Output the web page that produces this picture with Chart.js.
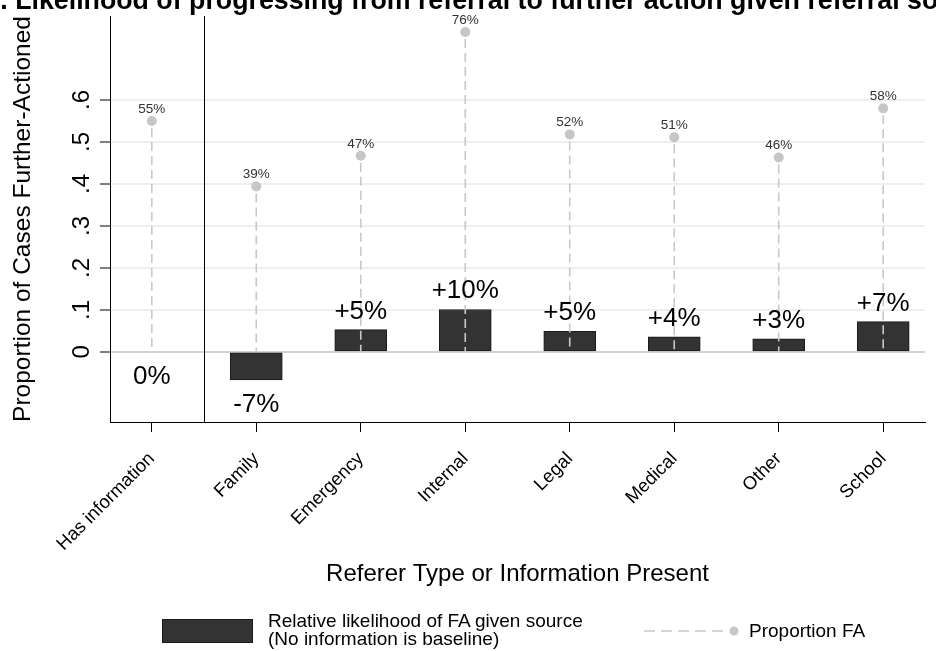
<!DOCTYPE html>
<html>
<head>
<meta charset="utf-8">
<script src="https://cdn.jsdelivr.net/npm/chart.js@4.4.1/dist/chart.umd.min.js"></script>
<style>
html, body { margin: 0; padding: 0; background: #fff; overflow: hidden; }
#wrap { position: relative; width: 936px; height: 651px; overflow: hidden; font-family: "Liberation Sans", Arial, sans-serif; color: #000; }
#chart { position: absolute; left: 0; top: 0; }
#title { position: absolute; left: -19px; top: -13px; white-space: nowrap; font-weight: bold; font-size: 26.75px; line-height: 27px; }
#lgbox { position: absolute; left: 162px; top: 619px; width: 89px; height: 22px; background: #333; border: 1px solid #1a1a1a; }
#lgtext1 { position: absolute; left: 268px; top: 612px; font-size: 19px; line-height: 18px; white-space: nowrap; }
#lgline { position: absolute; left: 640px; top: 624px; }
#lgtext2 { position: absolute; left: 749px; top: 621px; font-size: 19px; line-height: 20px; white-space: nowrap; }
</style>
</head>
<body>
<div id="wrap">
  <canvas id="chart" width="936" height="651"></canvas>
  <div id="title">B. Likelihood of progressing from referral to further action given referral source</div>
  <div id="lgbox"></div>
  <div id="lgtext1">Relative likelihood of FA given source<br>(No information is baseline)</div>
  <svg id="lgline" width="100" height="14"><line x1="4" y1="7" x2="88" y2="7" stroke="#c8c8c8" stroke-width="1.5" stroke-dasharray="11 6"/><circle cx="94" cy="7" r="4.5" fill="#c8c8c8"/></svg>
  <div id="lgtext2">Proportion FA</div>
</div>
<script>
// values
var categories = ['Has information', 'Family', 'Emergency', 'Internal', 'Legal', 'Medical', 'Other', 'School'];
var relLikelihood = [0, -0.067, 0.053, 0.101, 0.049, 0.036, 0.031, 0.072];
var propFA = [0.55, 0.394, 0.467, 0.762, 0.518, 0.511, 0.463, 0.58];
var yTicks = [0, 0.1, 0.2, 0.3, 0.4, 0.5, 0.6];
var yTickLabels = ['0', '.1', '.2', '.3', '.4', '.5', '.6'];

var FONT = '"Liberation Sans", Arial, sans-serif';

var barData = relLikelihood.map(function(v, i) { return {x: i + 1, y: v}; });
var pointData = propFA.map(function(v, i) { return {x: i + 1, y: v}; });

// dashed drop lines, drawn right after the bars so the dots sit on top
var dropLines = {
  id: 'dropLines',
  afterDatasetDraw: function(chart, args) {
    if (args.index !== 0) return;
    var ctx = chart.ctx;
    var zero = chart.scales.y.getPixelForValue(0);
    ctx.save();
    ctx.strokeStyle = '#c8c8c8';
    ctx.lineWidth = 1.6;
    ctx.setLineDash([9, 5]);
    chart.getDatasetMeta(1).data.forEach(function(p) {
      ctx.beginPath();
      ctx.moveTo(p.x, p.y + 7);
      ctx.lineTo(p.x, zero);
      ctx.stroke();
    });
    ctx.restore();
  }
};

var extras = {
  id: 'extras',
  afterDraw: function(chart) {
    var ctx = chart.ctx, area = chart.chartArea;
    var sx = Math.round(chart.scales.x.getPixelForValue(1.5)) + 0.5;
    ctx.save();
    ctx.strokeStyle = '#000';
    ctx.lineWidth = 1;
    ctx.beginPath();
    ctx.moveTo(sx, area.top);
    ctx.lineTo(sx, area.bottom);
    ctx.stroke();

    ctx.textAlign = 'center';
    ctx.textBaseline = 'alphabetic';
    ctx.fillStyle = '#000';
    ctx.font = '26px ' + FONT;
    chart.getDatasetMeta(0).data.forEach(function(bar, i) {
      var v = relLikelihood[i];
      var pct = Math.round(v * 100);
      var txt = pct > 0 ? '+' + pct + '%' : pct + '%';
      if (v > 0) ctx.fillText(txt, bar.x, bar.y - 11);
      else ctx.fillText(txt, bar.x, Math.max(bar.y, bar.base) + 32);
    });

    ctx.fillStyle = '#333';
    ctx.font = '13.5px ' + FONT;
    chart.getDatasetMeta(1).data.forEach(function(p, i) {
      ctx.fillText(Math.round(propFA[i] * 100) + '%', p.x, p.y - 8);
    });
    ctx.restore();
  }
};

new Chart(document.getElementById('chart'), {
  type: 'bar',
  data: {
    datasets: [
      {
        type: 'bar',
        label: 'Relative likelihood of FA given source',
        data: barData,
        backgroundColor: function(c) { return relLikelihood[c.dataIndex] === 0 ? 'rgba(0,0,0,0)' : '#333333'; },
        borderColor: '#1a1a1a',
        borderWidth: function(c) { return relLikelihood[c.dataIndex] === 0 ? 0 : 1; },
        borderSkipped: false,
        barThickness: 52,
        order: 1
      },
      {
        type: 'line',
        label: 'Proportion FA',
        data: pointData,
        showLine: false,
        pointRadius: 5,
        pointBackgroundColor: '#c6c6c6',
        pointBorderColor: '#c6c6c6',
        pointBorderWidth: 0,
        order: 0
      }
    ]
  },
  options: {
    responsive: false,
    animation: false,
    events: [],
    layout: { padding: { top: 16, right: 11, bottom: 51, left: 0 } },
    plugins: {
      legend: { display: false },
      tooltip: { enabled: false }
    },
    scales: {
      x: {
        type: 'linear',
        min: 0.6,
        max: 8.4,
        offset: false,
        afterBuildTicks: function(s) { s.ticks = categories.map(function(c, i) { return {value: i + 1}; }); },
        afterFit: function(s) { s.height = 178; s.paddingLeft = 0; s.paddingRight = 0; },
        grid: { display: true, offset: false, drawOnChartArea: false, drawTicks: true, tickLength: 10, tickColor: '#000', tickWidth: 1 },
        border: { display: true, color: '#000', width: 1 },
        ticks: {
          autoSkip: false,
          minRotation: 45,
          maxRotation: 45,
          padding: 16,
          color: '#000',
          font: { family: FONT, size: 18.5 },
          callback: function(v) { return categories[Math.round(v) - 1]; }
        },
        title: {
          display: true,
          text: 'Referer Type or Information Present',
          color: '#000',
          font: { family: FONT, size: 24 },
          padding: { top: 0, bottom: 11.6 }
        }
      },
      y: {
        type: 'linear',
        min: -0.167,
        max: 0.8,
        afterBuildTicks: function(s) { s.ticks = yTicks.map(function(v) { return {value: v}; }); },
        afterFit: function(s) { s.width = 110; s.paddingTop = 0; s.paddingBottom = 0; },
        grid: {
          color: function(c) { return c.tick && c.tick.value === 0 ? '#d2d2d2' : '#ebf0f3'; },
          lineWidth: 2,
          drawTicks: true,
          tickLength: 10,
          tickColor: '#000',
          tickWidth: 1
        },
        border: { display: true, color: '#000', width: 1 },
        ticks: {
          minRotation: 90,
          maxRotation: 90,
          crossAlign: 'center',
          padding: 8,
          color: '#000',
          font: { family: FONT, size: 24 },
          callback: function(v) { var k = yTicks.indexOf(Math.round(v * 10) / 10); return k >= 0 ? yTickLabels[k] : ''; }
        },
        title: {
          display: true,
          text: 'Proportion of Cases Further-Actioned',
          color: '#000',
          font: { family: FONT, size: 24.5 },
          padding: { top: 9, bottom: 0 }
        }
      }
    }
  },
  plugins: [dropLines, extras]
});
</script>
</body>
</html>
